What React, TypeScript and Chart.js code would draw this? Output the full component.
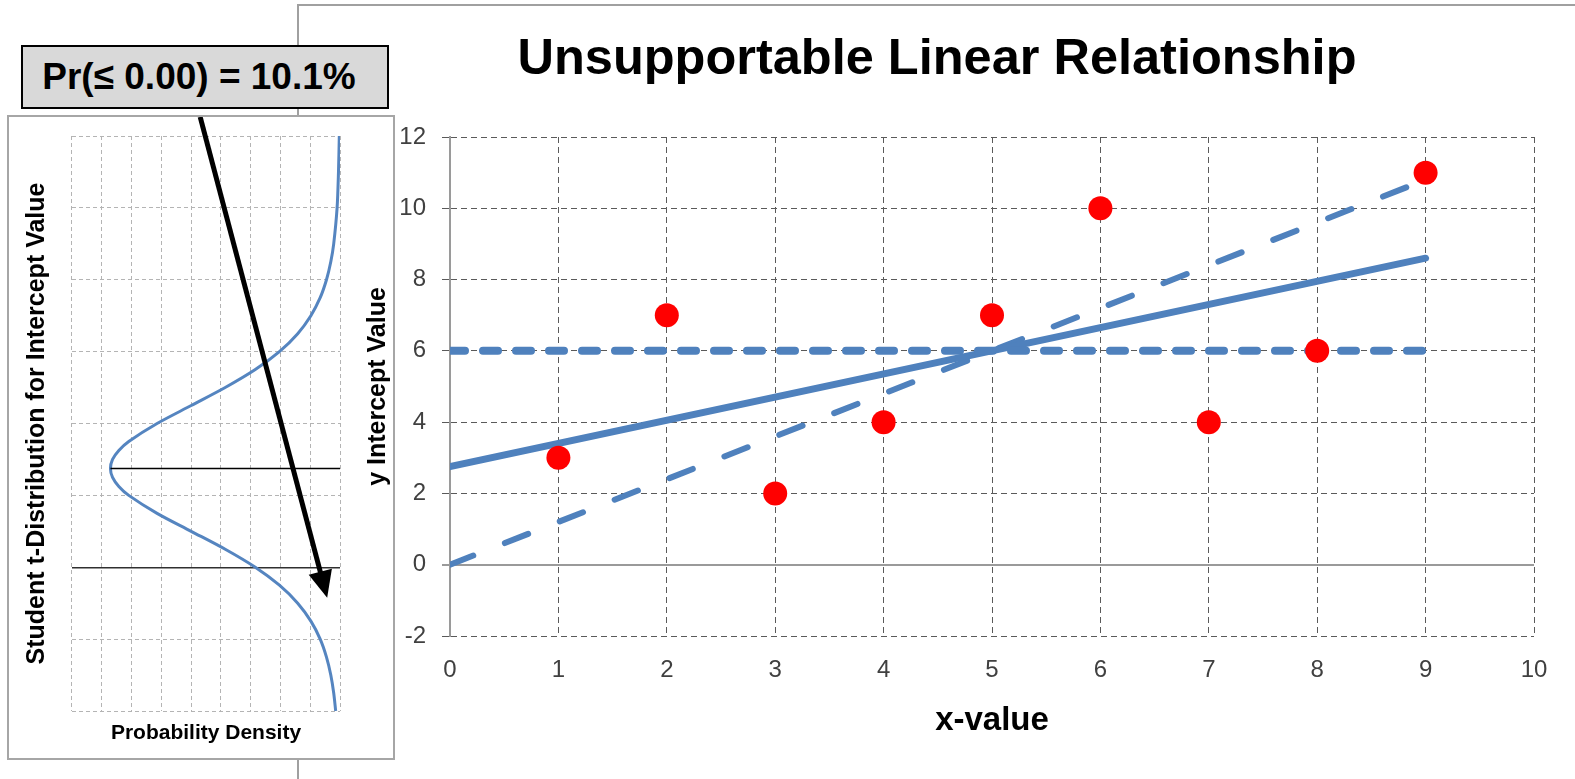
import React, { useEffect, useRef } from "react";
import { Chart, registerables } from "chart.js";

Chart.register(...registerables);

// ---------- main chart data ----------
const TITLE = "Unsupportable Linear Relationship";
const X_TITLE = "x-value";
const Y_TITLE = "y Intercept Value";
const POINT_X = [1, 2, 3, 4, 5, 6, 7, 8, 9];
const POINT_Y = [3, 7, 2, 4, 7, 10, 4, 6, 11];
const LINE_X = [0, 9];
const FIT_LINE_Y = [2.75, 8.6];
const STEEP_LINE_Y = [0, 10.8];
const MEAN_LINE_Y = [6, 6];
const X_MIN = 0;
const X_MAX = 10;
const X_STEP = 1;
const Y_MIN = -2;
const Y_MAX = 12;
const Y_STEP = 2;

// ---------- inset (t-distribution) data ----------
const INSET_Y_TITLE = "Student t-Distribution for Intercept Value";
const INSET_X_TITLE = "Probability Density";
const CALLOUT_TEXT = "Pr(\u2264 0.00) = 10.1%";
const DIST_VALUE = [
  -4, -3.5, -3, -2.5, -2, -1.5, -1, -0.5, 0, 0.5, 1, 1.5, 2, 2.25, 2.5, 2.75,
  3, 3.25, 3.5, 4, 4.5, 5, 5.5, 6, 6.5, 7, 7.5, 8, 8.5, 9, 10, 11, 12,
];
const DIST_DENSITY = [
  0.0037, 0.0054, 0.0079, 0.0116, 0.017, 0.025, 0.0363, 0.052, 0.0727, 0.0985,
  0.1277, 0.157, 0.1813, 0.1898, 0.1952, 0.197, 0.1952, 0.1898, 0.1813, 0.157,
  0.1277, 0.0985, 0.0727, 0.052, 0.0363, 0.025, 0.017, 0.0116, 0.0079, 0.0054,
  0.0025, 0.0013, 0.0006,
];
const INTERCEPT = 2.75;
const PEAK_DENSITY = 0.197;
const DENSITY_MAX = 0.23;
const DENSITY_GRID_COUNT = 9;
const INSET_Y_MIN = -4;
const INSET_Y_MAX = 12;
const ARROW_START = [0.12, 12.53]; // [density, value]
const ARROW_END = [0.011, -0.85];

const FONT = "'Liberation Sans', Arial, Helvetica, sans-serif";
const BLUE = "#4f81bd";

const pts = (xs: number[], ys: number[]) => xs.map((x, i) => ({ x, y: ys[i] }));

const arrowPlugin = {
  id: "insetArrow",
  afterDatasetsDraw(chart: any) {
    const { ctx, scales } = chart;
    const xs = scales.x;
    const ys = scales.y;
    const x1 = xs.getPixelForValue(ARROW_START[0]);
    const y1 = ys.getPixelForValue(ARROW_START[1]);
    const x2 = xs.getPixelForValue(ARROW_END[0]);
    const y2 = ys.getPixelForValue(ARROW_END[1]);
    const dx = x2 - x1;
    const dy = y2 - y1;
    const len = Math.sqrt(dx * dx + dy * dy);
    const ux = dx / len;
    const uy = dy / len;
    const headLen = 27;
    const headHalf = 12;
    ctx.save();
    ctx.strokeStyle = "#000";
    ctx.lineWidth = 5;
    ctx.beginPath();
    ctx.moveTo(x1, y1);
    ctx.lineTo(x2 - ux * (headLen - 4), y2 - uy * (headLen - 4));
    ctx.stroke();
    ctx.fillStyle = "#000";
    ctx.beginPath();
    ctx.moveTo(x2, y2);
    ctx.lineTo(x2 - ux * headLen - uy * headHalf, y2 - uy * headLen + ux * headHalf);
    ctx.lineTo(x2 - ux * headLen + uy * headHalf, y2 - uy * headLen - ux * headHalf);
    ctx.closePath();
    ctx.fill();
    ctx.restore();
  },
};

export default function App() {
  const mainRef = useRef<HTMLCanvasElement>(null);
  const insetRef = useRef<HTMLCanvasElement>(null);

  useEffect(() => {
    Chart.defaults.font.family = FONT;

    const isZero = (c: any) => c.tick && Math.abs(c.tick.value) < 1e-9;

    const main = new Chart(mainRef.current as HTMLCanvasElement, {
      type: "scatter",
      data: {
        datasets: [
          {
            label: "data",
            data: pts(POINT_X, POINT_Y),
            backgroundColor: "#ff0000",
            borderColor: "#ff0000",
            pointRadius: 12,
            borderWidth: 0,
          },
          {
            label: "mean",
            data: pts(LINE_X, MEAN_LINE_Y),
            showLine: true,
            borderColor: BLUE,
            borderWidth: 8,
            borderDash: [15, 18],
            borderCapStyle: "round",
            pointRadius: 0,
          },
          {
            label: "fit",
            data: pts(LINE_X, FIT_LINE_Y),
            showLine: true,
            borderColor: BLUE,
            borderWidth: 7,
            borderCapStyle: "round",
            pointRadius: 0,
          },
          {
            label: "steep",
            data: pts(LINE_X, STEEP_LINE_Y),
            showLine: true,
            borderColor: BLUE,
            borderWidth: 6,
            borderDash: [25, 34],
            borderCapStyle: "round",
            pointRadius: 0,
          },
        ],
      },
      options: {
        animation: false,
        responsive: true,
        maintainAspectRatio: false,
        events: [],
        layout: { padding: 0 },
        plugins: {
          legend: { display: false },
          tooltip: { enabled: false },
          title: {
            display: true,
            text: TITLE,
            color: "#000",
            font: { size: 50.5, weight: "bold", family: FONT },
            padding: { top: 24, bottom: 46.4 },
          },
        },
        scales: {
          x: {
            type: "linear",
            min: X_MIN,
            max: X_MAX,
            afterFit: (s: any) => {
              s.height = 143;
            },
            ticks: {
              stepSize: X_STEP,
              color: "#404040",
              font: { size: 24, family: FONT },
              padding: 20,
              maxRotation: 0,
            },
            grid: {
              drawTicks: false,
              color: (c: any) => (isZero(c) ? "#9a9a9a" : "#5a5a5a"),
              lineWidth: (c: any) => (isZero(c) ? 2 : 1),
            },
            border: {
              display: false,
              dash: (c: any) => (isZero(c) ? [] : [6, 4]),
            },
            title: {
              display: true,
              text: X_TITLE,
              color: "#000",
              font: { size: 33, weight: "bold", family: FONT },
              padding: { top: 0, bottom: 38 },
            },
          },
          y: {
            type: "linear",
            min: Y_MIN,
            max: Y_MAX,
            afterFit: (s: any) => {
              s.width = 151;
            },
            ticks: {
              stepSize: Y_STEP,
              color: "#404040",
              font: { size: 24, family: FONT },
              padding: 16,
            },
            grid: {
              drawTicks: true,
              tickLength: 8,
              color: (c: any) => (isZero(c) ? "#9a9a9a" : "#5a5a5a"),
              lineWidth: (c: any) => (isZero(c) ? 2 : 1),
              tickWidth: (c: any) => (isZero(c) ? 2 : 1),
            },
            border: {
              display: true,
              color: "#9a9a9a",
              width: 2,
              dash: (c: any) => (isZero(c) ? [] : [6, 4]),
            },
            title: {
              display: true,
              text: Y_TITLE,
              color: "#000",
              font: { size: 25, weight: "bold", family: FONT },
              padding: { top: 64, bottom: 0 },
            },
          },
          spacer: {
            type: "linear",
            position: "right",
            display: true,
            afterFit: (s: any) => {
              s.width = 41;
            },
            ticks: { display: false },
            grid: { display: false, drawTicks: false },
            border: { display: false },
          },
        },
      } as any,
    });

    const inset = new Chart(insetRef.current as HTMLCanvasElement, {
      type: "scatter",
      data: {
        datasets: [
          {
            label: "intercept",
            data: [
              { x: 0, y: INTERCEPT },
              { x: PEAK_DENSITY, y: INTERCEPT },
            ],
            showLine: true,
            borderColor: "#000",
            borderWidth: 1.5,
            pointRadius: 0,
          },
          {
            label: "density",
            data: pts(DIST_DENSITY, DIST_VALUE),
            showLine: true,
            borderColor: "#5585c0",
            borderWidth: 3,
            tension: 0.3,
            pointRadius: 0,
          },
        ],
      },
      options: {
        animation: false,
        responsive: true,
        maintainAspectRatio: false,
        events: [],
        layout: { padding: { left: 0, top: 19, right: 53, bottom: 0 } },
        plugins: {
          legend: { display: false },
          tooltip: { enabled: false },
          title: { display: false },
        },
        scales: {
          x: {
            type: "linear",
            reverse: true,
            min: 0,
            max: DENSITY_MAX,
            afterFit: (s: any) => {
              s.height = 47;
            },
            afterBuildTicks: (s: any) => {
              const t = [];
              for (let i = 0; i <= DENSITY_GRID_COUNT; i++) {
                t.push({ value: (DENSITY_MAX * i) / DENSITY_GRID_COUNT });
              }
              s.ticks = t;
            },
            ticks: { display: false },
            grid: { drawTicks: false, color: "#b4b4b4", lineWidth: 1 },
            border: { display: false, dash: [4, 3] },
            title: {
              display: true,
              text: INSET_X_TITLE,
              color: "#000",
              font: { size: 21, weight: "bold", family: FONT },
              padding: { top: 0, bottom: 12 },
            },
          },
          y: {
            type: "linear",
            min: INSET_Y_MIN,
            max: INSET_Y_MAX,
            afterFit: (s: any) => {
              s.width = 63;
            },
            ticks: { display: false, stepSize: 2 },
            grid: {
              drawTicks: false,
              color: (c: any) => (isZero(c) ? "#303030" : "#b4b4b4"),
              lineWidth: (c: any) => (isZero(c) ? 1.5 : 1),
            },
            border: {
              display: false,
              dash: (c: any) => (isZero(c) ? [] : [4, 3]),
            },
            title: {
              display: true,
              text: INSET_Y_TITLE,
              color: "#000",
              font: { size: 25, weight: "bold", family: FONT },
              padding: { top: 13, bottom: 0 },
            },
          },
        },
      } as any,
      plugins: [arrowPlugin],
    });

    return () => {
      main.destroy();
      inset.destroy();
    };
  }, []);

  return (
    <div
      style={{
        position: "fixed",
        left: 0,
        top: 0,
        width: 1575,
        height: 779,
        overflow: "hidden",
        background: "#fff",
        fontFamily: FONT,
      }}
    >
      <div
        style={{
          position: "absolute",
          left: 297,
          top: 4,
          width: 1400,
          height: 900,
          borderLeft: "2px solid #a0a0a0",
          borderTop: "2px solid #a0a0a0",
          zIndex: 0,
        }}
      />
      <div
        style={{
          position: "absolute",
          left: 7,
          top: 115,
          width: 384,
          height: 641,
          border: "2px solid #a6a6a6",
          background: "#fff",
          zIndex: 1,
        }}
      >
        <canvas ref={insetRef} />
      </div>
      <div style={{ position: "absolute", left: 299, top: 6, width: 1276, height: 773, zIndex: 2 }}>
        <canvas ref={mainRef} />
      </div>
      <div
        style={{
          position: "absolute",
          left: 21,
          top: 45,
          width: 368,
          height: 64,
          boxSizing: "border-box",
          border: "2px solid #000",
          background: "#d9d9d9",
          display: "flex",
          alignItems: "center",
          justifyContent: "center",
          fontWeight: "bold",
          fontSize: 37,
          color: "#000",
          whiteSpace: "nowrap",
          paddingRight: 12,
          zIndex: 3,
        }}
      >
        {CALLOUT_TEXT}
      </div>
    </div>
  );
}
